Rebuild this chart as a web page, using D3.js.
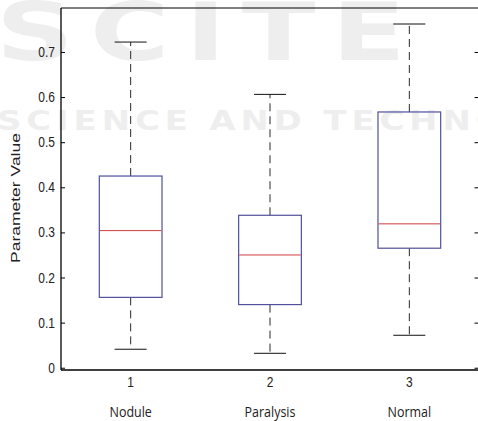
<!DOCTYPE html>
<html>
<head>
<meta charset="utf-8">
<script src="https://cdn.jsdelivr.net/npm/d3@7"></script>
<style>
  html, body { margin: 0; padding: 0; background: #fff; }
  svg { display: block; }
</style>
</head>
<body>
<div id="chart"></div>
<script>
const categories = ["Nodule", "Paralysis", "Normal"]
const positions = [1, 2, 3]
const lowerWhisker = [0.041, 0.032, 0.072]
const q1 = [0.156, 0.140, 0.265]
const median = [0.304, 0.250, 0.319]
const q3 = [0.425, 0.338, 0.567]
const upperWhisker = [0.722, 0.606, 0.762]
const yTicks = [0, 0.1, 0.2, 0.3, 0.4, 0.5, 0.6, 0.7]

const width = 478
const height = 421
const boxColor = '#50509c'
const medianColor = '#d03c3c'
const whiskerColor = '#2a2a2a'
const markColor = '#eeeeee'

var svg = d3.select('#chart').append('svg')
  .attr('width', width)
  .attr('height', height)

var x = d3.scaleLinear().domain([0.5, 3.5]).range([61, 479])
var y = d3.scaleLinear().domain([-0.005, 0.7975]).range([370, 8])

drawWatermark(svg)

var boxes = positions.map(function (p, i) {
  return { pos: p, name: categories[i], lo: lowerWhisker[i], q1: q1[i], med: median[i], q3: q3[i], hi: upperWhisker[i] }
})

var boxW = x(1.45) - x(1)
var capW = x(1.23) - x(1)

var g = svg.append('g')

// whiskers (dashed) and caps
g.selectAll('.whisker-hi').data(boxes).enter().append('line')
  .attr('x1', d => x(d.pos)).attr('x2', d => x(d.pos))
  .attr('y1', d => y(d.q3)).attr('y2', d => y(d.hi))
  .attr('stroke', whiskerColor).attr('stroke-width', 1)
  .attr('stroke-dasharray', '8 5')
g.selectAll('.whisker-lo').data(boxes).enter().append('line')
  .attr('x1', d => x(d.pos)).attr('x2', d => x(d.pos))
  .attr('y1', d => y(d.q1)).attr('y2', d => y(d.lo))
  .attr('stroke', whiskerColor).attr('stroke-width', 1)
  .attr('stroke-dasharray', '8 5')

g.selectAll('.cap-hi').data(boxes).enter().append('line')
  .attr('x1', d => x(d.pos) - capW / 2).attr('x2', d => x(d.pos) + capW / 2)
  .attr('y1', d => y(d.hi)).attr('y2', d => y(d.hi))
  .attr('stroke', '#111').attr('stroke-width', 1)
g.selectAll('.cap-lo').data(boxes).enter().append('line')
  .attr('x1', d => x(d.pos) - capW / 2).attr('x2', d => x(d.pos) + capW / 2)
  .attr('y1', d => y(d.lo)).attr('y2', d => y(d.lo))
  .attr('stroke', '#111').attr('stroke-width', 1)

// boxes
g.selectAll('.box').data(boxes).enter().append('rect')
  .attr('x', d => x(d.pos) - boxW / 2)
  .attr('width', boxW)
  .attr('y', d => y(d.q3))
  .attr('height', d => y(d.q1) - y(d.q3))
  .attr('fill', 'none')
  .attr('stroke', boxColor).attr('stroke-width', 1.2)

// medians
g.selectAll('.median').data(boxes).enter().append('line')
  .attr('x1', d => x(d.pos) - boxW / 2 + 0.6).attr('x2', d => x(d.pos) + boxW / 2 - 0.6)
  .attr('y1', d => y(d.med)).attr('y2', d => y(d.med))
  .attr('stroke', medianColor).attr('stroke-width', 1)

drawAxes(svg)

function drawAxes(svg) {
  var axes = svg.append('g')
  // frame
  axes.append('line').attr('x1', x(0.5)).attr('x2', x(3.5)).attr('y1', y.range()[1]).attr('y2', y.range()[1])
    .attr('stroke', '#000').attr('stroke-width', 1)
  axes.append('line').attr('x1', x(0.5)).attr('x2', x(3.5)).attr('y1', y.range()[0]).attr('y2', y.range()[0])
    .attr('stroke', '#000').attr('stroke-width', 1.3)
  axes.append('line').attr('x1', x(0.5)).attr('x2', x(0.5)).attr('y1', y.range()[0]).attr('y2', y.range()[1])
    .attr('stroke', '#000').attr('stroke-width', 1.3)

  // left y axis ticks pointing inward
  var left = axes.append('g').attr('transform', `translate(${x(0.5)},0)`)
    .call(d3.axisRight(y).tickValues(yTicks).tickSize(4).tickFormat(''))
  left.select('.domain').remove()
  left.selectAll('line').attr('stroke', '#000')

  var right = axes.append('g').attr('transform', `translate(${x(3.5) - 0.5},0)`)
    .call(d3.axisLeft(y).tickValues(yTicks).tickSize(4).tickFormat(''))
  right.select('.domain').remove()
  right.selectAll('line').attr('stroke', '#000')

  // y tick labels (image looks stretched vertically, hence the scale)
  axes.selectAll('.ylab').data(yTicks).enter().append('text')
    .attr('transform', d => `translate(55,${y(d) + 5}) scale(1,1.25)`)
    .attr('text-anchor', 'end')
    .attr('font-family', 'Liberation Sans, Arial, sans-serif')
    .attr('font-size', 12)
    .attr('fill', '#222')
    .text(d => d === 0 ? '0' : d3.format('.1f')(d))

  // x tick labels
  axes.selectAll('.xlab').data(positions).enter().append('text')
    .attr('transform', d => `translate(${x(d)},386.5) scale(1,1.25)`)
    .attr('text-anchor', 'middle')
    .attr('font-family', 'Liberation Sans, Arial, sans-serif')
    .attr('font-size', 12)
    .attr('fill', '#222')
    .text(d => d)

  // category names
  axes.selectAll('.cat').data(boxes).enter().append('text')
    .attr('transform', d => `translate(${x(d.pos)},417) scale(1,1.2)`)
    .attr('text-anchor', 'middle')
    .attr('font-family', 'Open Sans, sans-serif')
    .attr('font-size', 12.5)
    .attr('fill', '#222')
    .text(d => d.name)

  // y axis title
  axes.append('text')
    .attr('transform', `translate(20,198) scale(1,1.4) rotate(-90)`)
    .attr('text-anchor', 'middle')
    .attr('font-family', 'Liberation Sans, Arial, sans-serif')
    .attr('font-size', 12.5)
    .attr('fill', '#222')
    .text('Parameter Value')
}

// faint publisher watermark behind the plot
function drawWatermark(svg) {
  var wm = svg.append('g').attr('fill', markColor)
  wm.append('text')
    .attr('transform', 'translate(-4,60) scale(1.35,1)')
    .attr('font-family', 'DejaVu Sans, sans-serif')
    .attr('font-weight', 'bold')
    .attr('font-size', 80)
    .attr('letter-spacing', 12)
    .text('SCITE')
  wm.append('text')
    .attr('transform', 'translate(-3,130) scale(1.25,1)')
    .attr('font-family', 'DejaVu Sans, sans-serif')
    .attr('font-weight', 'bold')
    .attr('font-size', 27)
    .attr('letter-spacing', 4)
    .text('SCIENCE AND TECHNOLOGY')
}
</script>
</body>
</html>
